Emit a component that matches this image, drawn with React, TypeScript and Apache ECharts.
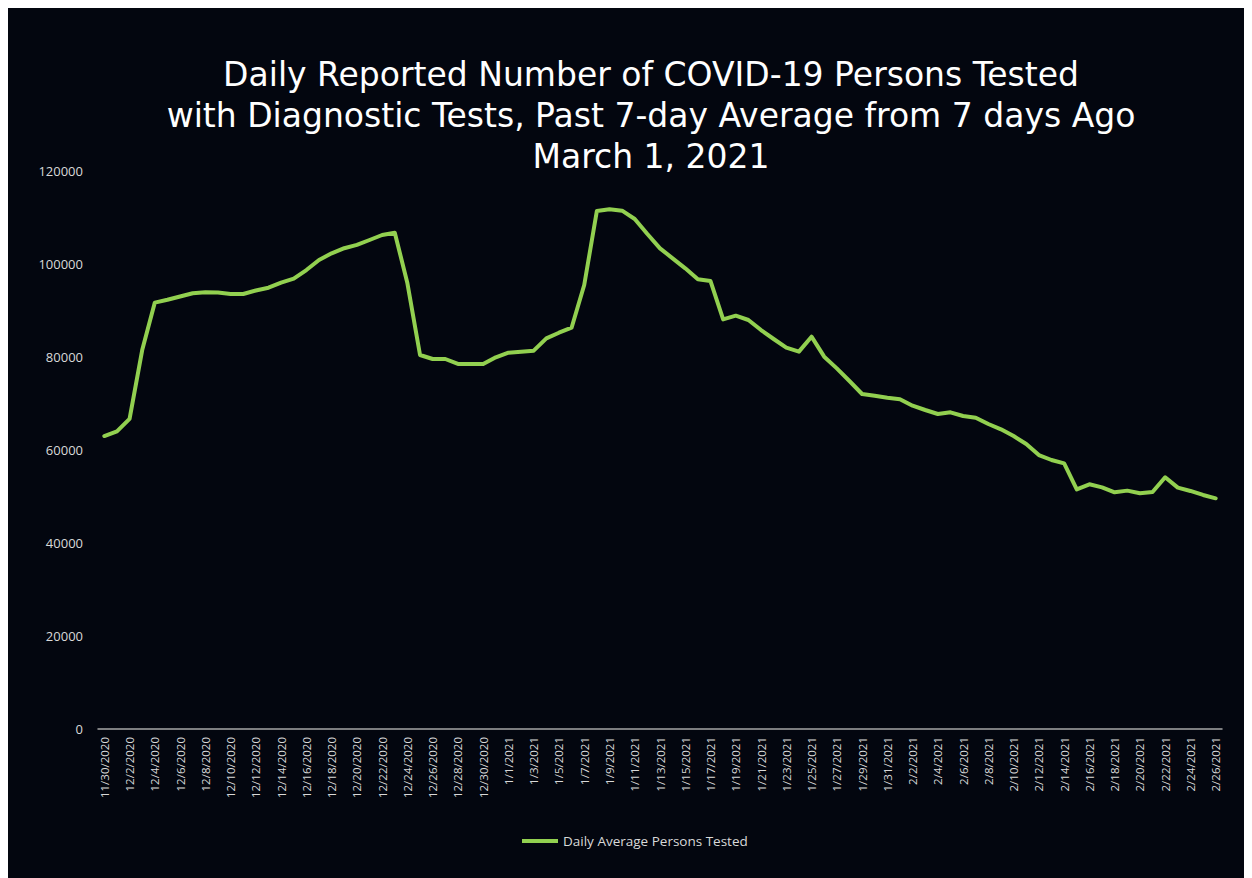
import React, { useEffect, useRef } from "react";
import * as echarts from "echarts";

const startDate = { year: 2020, month: 11, day: 30 };
const dayCount = 89;

const values: number[] = [
  63000, 64000, 66700, 81500, 91700, 92300, 93000, 93700, 93900, 93850,
  93550, 93550, 94300, 94900, 96000, 96850, 98700, 100860, 102300, 103400,
  104100, 105160, 106240, 106740, 95850, 80430, 79570, 79570, 78500, 78500,
  78500, 79930, 80930, 81150, 81360, 84000, 85220, 86300, 95480, 111400,
  111760, 111470, 109680, 106450, 103370, 101220, 99070, 96700, 96340, 88100,
  88890, 87960, 85800, 83870, 82000, 81150, 84370, 80070, 77560, 74840,
  72040, 71680, 71250, 70900, 69530, 68600, 67740, 68100, 67310, 66950,
  65590, 64450, 63010, 61290, 58920, 57850, 57130, 51540, 52620, 51970,
  50900, 51260, 50690, 50970, 54130, 51900, 51190, 50330, 49610,
];

const titleLines = [
  "Daily Reported Number of COVID-19 Persons Tested",
  "with Diagnostic Tests, Past 7-day Average from 7 days Ago",
  "March 1, 2021",
];
const seriesName = "Daily Average Persons Tested";

function buildCategories(): string[] {
  const out: string[] = [];
  const d = new Date(startDate.year, startDate.month - 1, startDate.day);
  for (let i = 0; i < dayCount; i++) {
    out.push(`${d.getMonth() + 1}/${d.getDate()}/${d.getFullYear()}`);
    d.setDate(d.getDate() + 1);
  }
  return out;
}

const categories = buildCategories();

export default function App() {
  const ref = useRef<HTMLDivElement>(null);
  useEffect(() => {
    document.body.style.overflow = "hidden";
    if (!ref.current) return;
    const chart = echarts.init(ref.current, null, { renderer: "svg" });
    const font = "'Open Sans', 'Noto Sans', sans-serif";
    chart.setOption({
      animation: false,
      backgroundColor: "#03060f",
      title: {
        text: titleLines.join("\n"),
        left: 638,
        top: 41,
        textAlign: "center",
        textStyle: {
          color: "#ffffff",
          fontSize: 33,
          fontWeight: "normal",
          fontFamily: "'DejaVu Sans', 'Open Sans', sans-serif",
          lineHeight: 41,
        },
      },
      legend: {
        data: [seriesName],
        left: 509,
        top: 821,
        itemWidth: 36,
        itemHeight: 4,
        itemGap: 4,
        icon: "rect",
        textStyle: { color: "#d9d9d9", fontSize: 13.5, fontFamily: font },
      },
      grid: { left: 90, right: 30, top: 163, bottom: 149, containLabel: false },
      xAxis: {
        type: "category",
        data: categories,
        boundaryGap: true,
        axisLine: { show: true, lineStyle: { color: "#a6a6a6", width: 1.5 } },
        axisTick: { show: false },
        axisLabel: {
          rotate: 90,
          interval: 1,
          color: "#d9d9d9",
          fontSize: 11.5,
          fontFamily: font,
          margin: 8,
        },
        splitLine: { show: false },
      },
      yAxis: {
        type: "value",
        min: 0,
        max: 120000,
        interval: 20000,
        axisLine: { show: false },
        axisTick: { show: false },
        splitLine: { show: false },
        axisLabel: {
          color: "#d9d9d9",
          fontSize: 13,
          fontFamily: font,
          margin: 15,
          formatter: (v: number) => String(v),
        },
      },
      series: [
        {
          name: seriesName,
          type: "line",
          data: values,
          showSymbol: false,
          symbol: "none",
          lineStyle: { color: "#92d050", width: 4, join: "round", cap: "round" },
          itemStyle: { color: "#92d050" },
        },
      ],
    });
    return () => chart.dispose();
  }, []);
  return <div ref={ref} style={{ width: 1244, height: 870 }} />;
}
